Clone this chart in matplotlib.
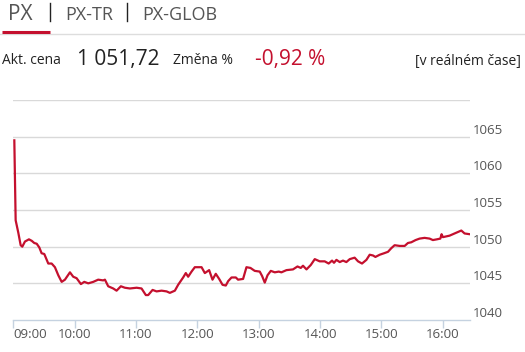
import matplotlib
matplotlib.use("Agg")
import matplotlib.pyplot as plt
from matplotlib.lines import Line2D

plt.rcParams['font.family'] = ['Open Sans', 'DejaVu Sans']

# minutes after 09:00 and PX index values
minutes = [1.0, 2.3, 4.9, 7.2, 8.8, 11.4, 15.3, 18.0, 20.5, 22.9, 25.4, 27.7, 30.3,
           34.2, 37.5, 40.7, 44.0, 47.3, 50.5, 55.4, 58.6, 61.9, 66.1, 69.4, 73.3,
           78.2, 83.0, 87.9, 89.6, 92.8, 97.7, 101.0, 105.2, 109.1, 114.0, 120.6,
           125.4, 129.6, 131.9, 136.2, 140.1, 145.0, 149.9, 153.1, 158.0, 161.2,
           166.1, 168.7, 171.0, 174.3, 177.5, 184.1, 187.3, 191.5, 194.8, 198.0,
           201.3, 204.6, 207.8, 210.1, 213.4, 217.6, 219.8, 224.7, 228.0, 231.9,
           236.1, 241.0, 243.3, 245.9, 248.6, 251.8, 255.7, 259.6, 262.2, 267.1,
           273.5, 277.9, 281.1, 283.3, 286.7, 290.9, 294.8, 299.6, 304.5, 308.4,
           311.7, 313.6, 316.0, 319.2, 322.4, 325.7, 329.0, 333.8, 337.1, 341.0,
           345.3, 348.5, 351.7, 354.1, 358.3, 362.5, 366.4, 369.7, 372.9, 377.8,
           382.7, 385.9, 389.2, 393.4, 397.3, 402.2, 407.1, 410.3, 414.2, 417.6,
           418.8, 420.1, 426.6, 431.5, 438.1, 441.3, 446.2]
values = [1064.5, 1053.6, 1051.9, 1050.2, 1050.0, 1050.7, 1051.0, 1050.8, 1050.5,
          1050.4, 1049.9, 1049.1, 1049.0, 1047.7, 1047.7, 1047.2, 1046.1, 1045.2,
          1045.5, 1046.5, 1045.9, 1045.7, 1044.9, 1045.2, 1045.0, 1045.2, 1045.5,
          1045.4, 1045.5, 1044.6, 1044.3, 1044.0, 1044.6, 1044.4, 1044.3, 1044.4,
          1044.3, 1043.4, 1043.4, 1044.1, 1043.9, 1044.0, 1043.9, 1043.7, 1044.0,
          1044.8, 1045.8, 1046.4, 1045.9, 1046.6, 1047.2, 1047.2, 1046.4, 1046.8,
          1045.5, 1046.3, 1045.6, 1044.8, 1044.7, 1045.3, 1045.8, 1045.8, 1045.5,
          1045.6, 1047.2, 1047.1, 1046.7, 1046.6, 1046.0, 1045.1, 1046.1, 1046.7,
          1046.5, 1046.6, 1046.5, 1046.8, 1046.9, 1047.3, 1047.1, 1047.4, 1046.9,
          1047.5, 1048.3, 1048.0, 1048.0, 1047.7, 1048.1, 1047.8, 1048.2, 1047.9,
          1048.1, 1047.9, 1048.3, 1048.5, 1048.0, 1047.7, 1048.2, 1048.9, 1048.8,
          1048.6, 1048.9, 1049.1, 1049.3, 1049.8, 1050.2, 1050.1, 1050.1, 1050.5,
          1050.6, 1050.9, 1051.1, 1051.2, 1051.1, 1050.9, 1051.0, 1051.1, 1051.7,
          1051.3, 1051.5, 1051.8, 1052.2, 1051.8, 1051.7]

x_ticks = [0, 60, 120, 180, 240, 300, 360, 420]
x_labels = ['09:00', '10:00', '11:00', '12:00', '13:00', '14:00', '15:00', '16:00']
y_ticks = [1040, 1045, 1050, 1055, 1060, 1065]

tabs = ['PX', 'PX-TR', 'PX-GLOB']
price = '1 051,72'
change = '-0,92 %'

W, H = 525, 352
fig = plt.figure(figsize=(W / 100, H / 100), dpi=100)
ax = fig.add_axes([13.3 / W, 32 / H, (470 - 13.3) / W, 220 / H])

ax.plot(minutes, values, color='#c4102e', lw=1.6, solid_joinstyle='round')
ax.set_xlim(0, 446.6)
ax.set_ylim(1040, 1070)

for y in y_ticks[1:] + [1070]:
    ax.axhline(y, color='#d9d9d9', lw=1, zorder=0)

for s in ['top', 'right', 'left']:
    ax.spines[s].set_visible(False)
ax.spines['bottom'].set_color('#c5d2e0')
ax.spines['bottom'].set_linewidth(1)

ax.set_xticks(x_ticks)
ax.set_xticklabels(x_labels)
ax.tick_params(axis='x', length=6, width=1, color='#c5d2e0', labelsize=9.5,
               labelcolor='#555555', pad=0)
ax.get_xticklabels()[0].set_horizontalalignment('left')
ax.set_yticks(y_ticks)
ax.yaxis.tick_right()
ax.tick_params(axis='y', length=0, pad=2, labelsize=9.5, labelcolor='#555555')
for lbl in ax.get_yticklabels():
    lbl.set_verticalalignment('bottom')

def px(x, y):
    return x / W, 1 - y / H

# tab header
fig.text(*px(8, 14), tabs[0], fontsize=15, color='#555555', va='center')
fig.text(*px(65, 15), tabs[1], fontsize=13, color='#555555', va='center')
fig.text(*px(142, 15), tabs[2], fontsize=13, color='#555555', va='center')
for sx in [49.5, 127]:
    fig.add_artist(Line2D([sx / W, sx / W], [1 - 3 / H, 1 - 21 / H], color='#222222', lw=1))
fig.add_artist(Line2D([0, 1], [1 - 34 / H, 1 - 34 / H], color='#dddddd', lw=1))
fig.add_artist(Line2D([2 / W, 50 / W], [1 - 32 / H, 1 - 32 / H], color='#c4102e', lw=2.2,
                      solid_capstyle='butt'))

# quote row
fig.text(*px(2, 61), 'Akt. cena', fontsize=10, color='#222222', va='center')
fig.text(*px(77, 60), price, fontsize=15, color='#222222', va='center')
fig.text(*px(173, 61), 'Změna %', fontsize=10, color='#222222', va='center')
fig.text(*px(255, 60), change, fontsize=15, color='#c4102e', va='center')
fig.text(*px(521, 61), '[v reálném čase]', fontsize=10, color='#222222', va='center',
         ha='right')

fig.savefig('out.png', dpi=100)
